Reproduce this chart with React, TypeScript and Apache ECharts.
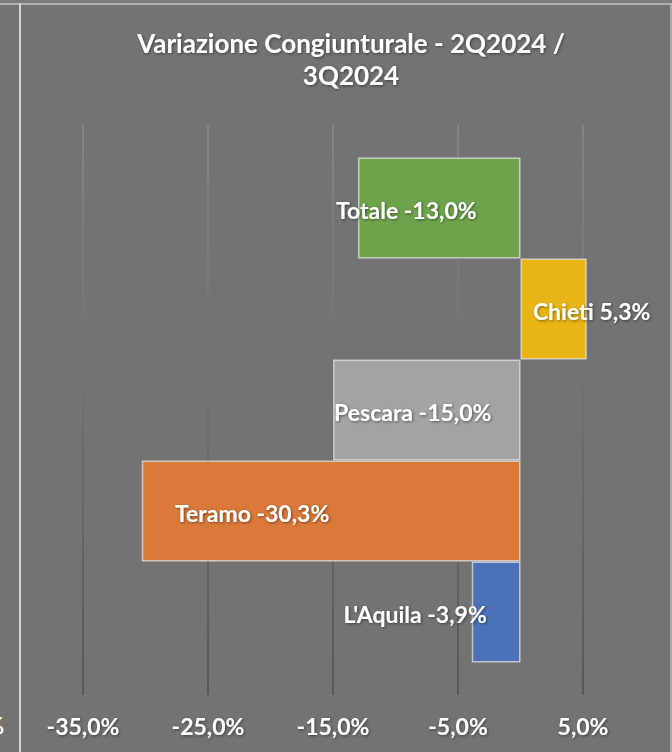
import React, { useEffect, useRef } from "react";
import * as echarts from "echarts";

const categories = ["2Q2024 / 3Q2024"];
const seriesNames = ["Totale", "Chieti", "Pescara", "Teramo", "L'Aquila"];
const seriesValues = [-13.0, 5.3, -15.0, -30.3, -3.9];
const seriesColors = ["#6ea34c", "#e9b516", "#a3a3a3", "#da793a", "#4b72b9"];
const labelOffsets = [-33, 38, -14, -79, -81];
const titleText = "Variazione Congiunturale - 2Q2024 /\n3Q2024";

const FONT = "Lato, 'Liberation Sans', sans-serif";

export default function App() {
  const ref = useRef<HTMLDivElement>(null);
  useEffect(() => {
    if (!ref.current) return;
    const chart = echarts.init(ref.current, null, { renderer: "svg" });
    const fmt = (v: number) => v.toFixed(1).replace(".", ",") + "%";
    const shadow = {
      textShadowColor: "rgba(0,0,0,0.45)",
      textShadowBlur: 3,
      textShadowOffsetX: 1,
      textShadowOffsetY: 1,
    };
    chart.setOption({
      animation: false,
      backgroundColor: "#737373",
      title: {
        text: titleText,
        left: 346,
        top: 22,
        textAlign: "center",
        textStyle: {
          color: "#ffffff",
          fontFamily: FONT,
          fontWeight: "bold",
          fontSize: 26,
          lineHeight: 32,
          ...shadow,
        },
      },
      grid: { left: 83, right: 89, top: 125, bottom: 57, containLabel: false },
      xAxis: {
        type: "value",
        min: -35,
        max: 5,
        interval: 10,
        axisLine: { show: false },
        axisTick: { show: false },
        axisLabel: {
          color: "#ffffff",
          fontFamily: FONT,
          fontWeight: "bold",
          fontSize: 23,
          margin: 19,
          formatter: (v: number) => fmt(v),
          ...shadow,
        },
        splitLine: {
          show: true,
          lineStyle: {
            width: 1.5,
            color: new echarts.graphic.LinearGradient(
              0, 125, 0, 695,
              [
                { offset: 0, color: "#8a8a8a" },
                { offset: 0.45, color: "#707070" },
                { offset: 1, color: "#4e4e4e" },
              ],
              true
            ),
          },
        },
      },
      yAxis: {
        type: "category",
        data: categories,
        show: false,
      },
      graphic: [
        { type: "rect", shape: { x: 0, y: 0, width: 672, height: 3 }, style: { fill: "#7c7c7c" }, silent: true },
        { type: "line", shape: { x1: 0, y1: 4, x2: 672, y2: 4 }, style: { stroke: "#c4c4c4", lineWidth: 1.5 }, silent: true },
        { type: "line", shape: { x1: 20, y1: 3, x2: 20, y2: 752 }, style: { stroke: "#d2d2d2", lineWidth: 2 }, silent: true },
        { type: "line", shape: { x1: 671, y1: 3, x2: 671, y2: 752 }, style: { stroke: "#bdbdbd", lineWidth: 1.5 }, silent: true },
        {
          type: "text",
          x: 0,
          y: 725,
          style: {
            text: "%",
            x: 4,
            y: 0,
            align: "right",
            verticalAlign: "middle",
            fill: "#ffffff",
            font: "bold 23px " + FONT,
          },
          silent: true,
        },
      ],
      series: seriesNames.map((name, i) => ({
        name,
        type: "bar",
        data: [seriesValues[i]],
        barWidth: 101,
        barGap: "0%",
        clip: false,
        itemStyle: {
          color: seriesColors[i],
          borderColor: "rgba(225,225,225,0.75)",
          borderWidth: 1.5,
        },
        label: {
          show: true,
          position: "inside",
          offset: [labelOffsets[i], 2],
          formatter: () => name + " " + fmt(seriesValues[i]),
          color: "#ffffff",
          fontFamily: FONT,
          fontWeight: "bold",
          fontSize: 23,
          ...shadow,
        },
      })),
    });
    return () => chart.dispose();
  }, []);
  return (
    <div
      ref={ref}
      style={{ position: "fixed", left: 0, top: 0, width: 672, height: 752 }}
    />
  );
}
